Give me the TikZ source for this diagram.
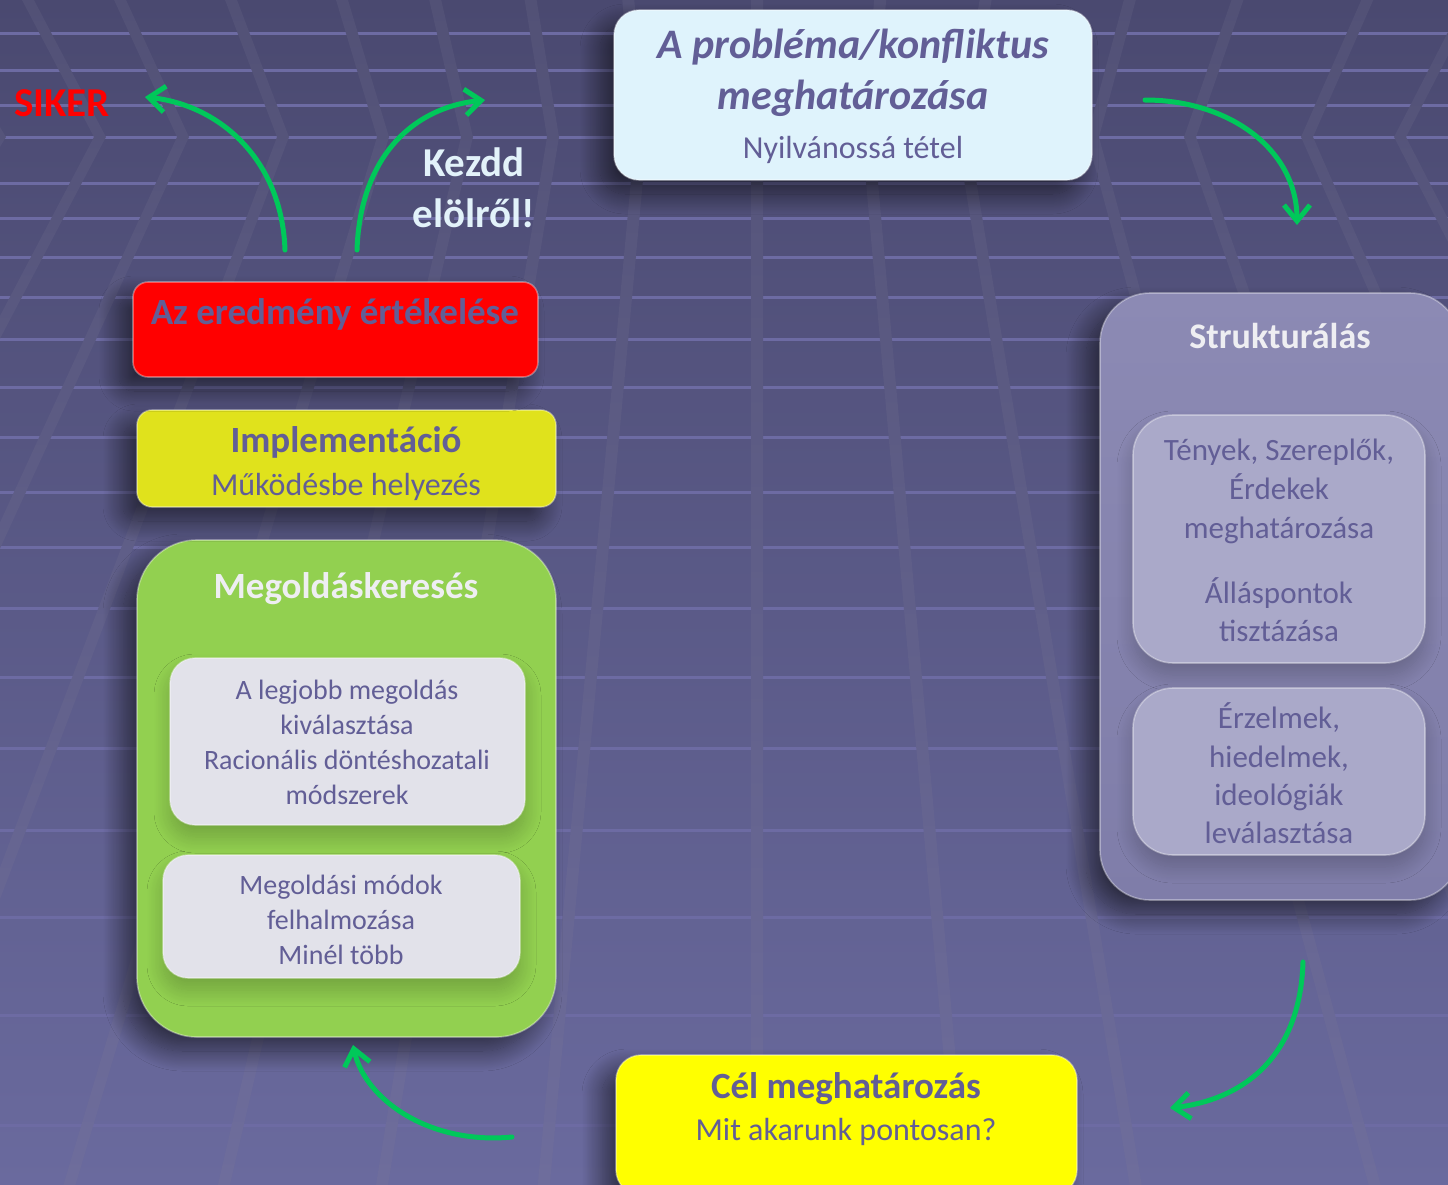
\documentclass[tikz,border=0pt]{standalone}
\usepackage{fontspec}
\setmainfont{Carlito}
\usetikzlibrary{arrows.meta,shadows.blur}
\definecolor{bgtop}{HTML}{4A4970}
\definecolor{bgbot}{HTML}{6A6A9E}
\definecolor{vtop}{HTML}{525176}
\definecolor{vbot}{HTML}{6E6D9C}
\definecolor{hline}{HTML}{6D6BA3}
\definecolor{txt}{HTML}{625E96}
\definecolor{topfill}{HTML}{DFF3FC}
\definecolor{strtop}{HTML}{8C8AB4}
\definecolor{strbot}{HTML}{7F7DA9}
\definecolor{strin}{HTML}{AAA9C9}
\definecolor{grn}{HTML}{92D050}
\definecolor{grnin}{HTML}{E2E2EA}
\definecolor{impl}{HTML}{E0E21C}
\definecolor{celfill}{HTML}{FFFF00}
\definecolor{arr}{HTML}{00C85A}
\definecolor{kezd}{HTML}{E2F2FA}
\definecolor{ltitle}{HTML}{EEEEF2}
\newcommand\fz[1]{\fontsize{#1}{#1}\selectfont}
\begin{document}
\begin{tikzpicture}[x=0.5pt,y=-0.5pt,
  tt/.style={inner sep=0pt,text height=1.1em,text depth=0pt,text=txt},
  bx/.style={rounded corners=#1,draw=white,draw opacity=0.35,line width=0.8pt,inner sep=0pt},
  shd/.style={blur shadow={shadow xshift=-7pt,shadow yshift=-7pt,shadow blur radius=10pt,shadow blur steps=24,shadow opacity=55}},
  shs/.style={blur shadow={shadow xshift=0pt,shadow yshift=-6pt,shadow blur radius=8pt,shadow blur steps=24,shadow opacity=22}},
  garrow/.style={draw=arr,line width=2.5pt,line cap=round,-{Straight Barb[length=8pt,width=13pt]}},
  hl/.style={draw=hline,line width=1.5pt},
]
\useasboundingbox (0,0) rectangle (1448,1185);
\clip (0,0) rectangle (1448,1185);
% background
\shade[top color=bgtop,bottom color=bgbot] (0,0) rectangle (1448,1185);
\foreach \yy in {33,70,105,137,183,218,257,297,339,387,437,492,547,608,677,748,830,917,1015,1125}
  \draw[hl] (0,\yy) -- (1448,\yy);
\foreach \c in {0,100,183,283,383,467,553,641,757,868,963,1093,1190,1307,1400}{
  \shade[top color=vtop,bottom color=vbot]
    ({757+(\c-757)*1.1096-6},0) -- (\c-6,137) -- ({757+(\c-757)*1.8384-6},1185)
    -- ({757+(\c-757)*1.8384+6},1185) -- (\c+6,137) -- ({757+(\c-757)*1.1096+6},0) -- cycle;
}
% boxes
\node[bx=12.5pt,fill=topfill,minimum width=239pt,minimum height=85pt,shd] (prob) at (853,95) {};
\node[bx=25pt,top color=strtop,bottom color=strbot,minimum width=180pt,minimum height=303.5pt,shd] (str) at (1280,596.5) {};
\node[bx=20pt,fill=strin,minimum width=146pt,minimum height=124pt,shs] (strA) at (1279,539) {};
\node[bx=20pt,fill=strin,minimum width=146pt,minimum height=83.5pt,shs] (strB) at (1279,771.5) {};
\node[bx=12.5pt,fill=celfill,minimum width=230.5pt,minimum height=70pt,shd] (cel) at (846.5,1125) {};
\node[bx=30pt,fill=grn,minimum width=209.5pt,minimum height=248.5pt,shd] (meg) at (346.5,788.5) {};
\node[bx=12.5pt,fill=grnin,minimum width=177.5pt,minimum height=83.5pt,shs] (megA) at (347.5,741.5) {};
\node[bx=12.5pt,fill=grnin,minimum width=178.5pt,minimum height=61.5pt,shs] (megB) at (341.5,916.5) {};
\node[bx=7.5pt,fill=impl,minimum width=209.5pt,minimum height=48.5pt,shd] (impl) at (346.5,458.5) {};
\node[bx=7.5pt,fill=red,minimum width=202.5pt,minimum height=47.5pt,shd] (ered) at (335.5,329.5) {};
% texts
\node[tt,font={\fz{21}\bfseries\itshape}] (probT1) at (853,47) {A probléma/konfliktus};
\node[tt,font={\fz{21}\bfseries\itshape}] (probT2) at (853,98) {meghatározása};
\node[tt,font=\fz{16}] (probT3) at (853,147) {Nyilvánossá tétel};
\node[tt,font={\fz{18}\bfseries},text=ltitle] (strT) at (1280,337) {Strukturálás};
\node[tt,font=\fz{15.5}] (strA1) at (1279,449) {Tények, Szereplők,};
\node[tt,font=\fz{15.5}] (strA2) at (1279,488) {Érdekek};
\node[tt,font=\fz{15.5}] (strA3) at (1279,527) {meghatározása};
\node[tt,font=\fz{15.5}] (strA4) at (1279,592) {Álláspontok};
\node[tt,font=\fz{15.5}] (strA5) at (1279,630) {tisztázása};
\node[tt,font=\fz{15.5}] (strB1) at (1279,717) {Érzelmek,};
\node[tt,font=\fz{15.5}] (strB2) at (1279,756) {hiedelmek,};
\node[tt,font=\fz{15.5}] (strB3) at (1279,794) {ideológiák};
\node[tt,font=\fz{15.5}] (strB4) at (1279,832) {leválasztása};
\node[tt,font={\fz{18.5}\bfseries}] (celT1) at (846,1087) {Cél meghatározás};
\node[tt,font=\fz{16}] (celT2) at (846,1129) {Mit akarunk pontosan?};
\node[tt,font={\fz{18.5}\bfseries},text=ltitle] (megT) at (346,587) {Megoldáskeresés};
\node[tt,font=\fz{14}] (megA1) at (347,688) {A legjobb megoldás};
\node[tt,font=\fz{14}] (megA2) at (347,723) {kiválasztása};
\node[tt,font=\fz{14}] (megA3) at (347,758) {Racionális döntéshozatali};
\node[tt,font=\fz{14}] (megA4) at (347,793) {módszerek};
\node[tt,font=\fz{14}] (megB1) at (341,883) {Megoldási módok};
\node[tt,font=\fz{14}] (megB2) at (341,918) {felhalmozása};
\node[tt,font=\fz{14}] (megB3) at (341,953) {Minél több};
\node[tt,font={\fz{18.5}\bfseries}] (implT1) at (346,441) {Implementáció};
\node[tt,font=\fz{16}] (implT2) at (346,484) {Működésbe helyezés};
\node[tt,font={\fz{18.5}\bfseries}] (eredT) at (335,313) {Az eredmény értékelése};
\node[tt,font={\fz{20.5}\bfseries},text=red] (siker) at (62,105) {SIKER};
\node[tt,font={\fz{20.5}\bfseries},text=kezd] (kezd1) at (474,165) {Kezdd};
\node[tt,font={\fz{20.5}\bfseries},text=kezd] (kezd2) at (474,216) {elölről!};
% arrows
\coordinate (a1s) at (1145,100); \coordinate (a1e) at (1297,225);
\coordinate (a2s) at (1303,962); \coordinate (a2e) at (1170,1108);
\coordinate (a3s) at (512,1137); \coordinate (a3e) at (353,1045);
\coordinate (a4s) at (285,250); \coordinate (a4e) at (145,97);
\coordinate (a5s) at (357,250); \coordinate (a5e) at (485,100);
\draw[garrow] (a1s) .. controls (1230,100) and (1297,150) .. (a1e);
\draw[garrow] (a2s) .. controls (1300,1060) and (1240,1100) .. (a2e);
\draw[garrow] (a3s) .. controls (430,1145) and (365,1100) .. (a3e);
\draw[garrow] (a4s) .. controls (282,160) and (220,105) .. (a4e);
\draw[garrow] (a5s) .. controls (360,160) and (410,108) .. (a5e);
\end{tikzpicture}
\end{document}
